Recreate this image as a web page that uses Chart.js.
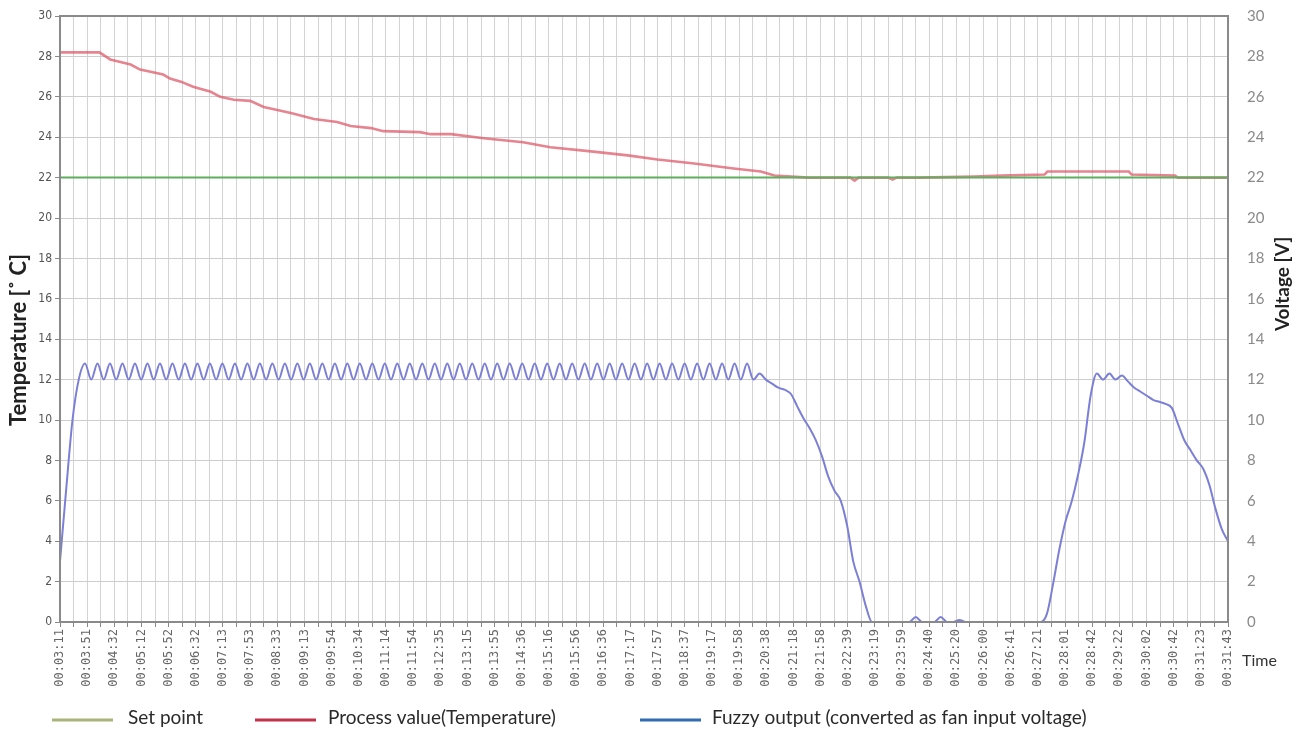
<!DOCTYPE html>
<html>
<head>
<meta charset="utf-8">
<script src="https://cdn.jsdelivr.net/npm/chart.js@4/dist/chart.umd.min.js"></script>
<style>
  html, body { margin: 0; padding: 0; background: #ffffff; }
  #wrap { width: 1313px; height: 742px; position: relative; }
</style>
</head>
<body>
<div id="wrap"><canvas id="c" width="1313" height="742"></canvas></div>
<script>
// ---- x axis: one gridline per unit, a time label on every second gridline ----
const timeLabels = ["00:03:11","00:03:51","00:04:32","00:05:12","00:05:52","00:06:32","00:07:13","00:07:53",
  "00:08:33","00:09:13","00:09:54","00:10:34","00:11:14","00:11:54","00:12:35","00:13:15","00:13:55",
  "00:14:36","00:15:16","00:15:56","00:16:36","00:17:17","00:17:57","00:18:37","00:19:17","00:19:58",
  "00:20:38","00:21:18","00:21:58","00:22:39","00:23:19","00:23:59","00:24:40","00:25:20","00:26:00",
  "00:26:41","00:27:21","00:28:01","00:28:42","00:29:22","00:30:02","00:30:42","00:31:23","00:31:43"];
const GRID_PER_LABEL = 2;

// ---- y ticks ----
const yTicks = [0,2,4,6,8,10,12,14,16,18,20,22,24,26,28,30];

// ---- Set point (°C) ----
const setpointX = [0, 86];
const setpointY = [22, 22];

// ---- Process value, temperature (°C) ----
const tempX = [0, 2.9, 3.7, 5.2, 5.9, 7.6, 8.1, 8.9, 9.8, 11.1, 11.8, 12.8, 14.0, 15.0, 17.0, 18.7, 20.4,
  21.4, 22.9, 23.8, 26.5, 27.3, 28.8, 31.2, 34.1, 36.1, 39.1, 41.8, 44.0, 46.7, 49.6, 51.6, 52.6, 55.1,
  58.2, 58.5, 58.8, 61.0, 61.3, 61.6, 63.2, 67.3, 69.3, 72.5, 72.7, 78.7, 78.9, 82.1, 82.3, 86];
const tempY = [28.2, 28.2, 27.85, 27.6, 27.35, 27.1, 26.9, 26.75, 26.5, 26.25, 26.0, 25.85, 25.8, 25.5,
  25.2, 24.9, 24.75, 24.55, 24.45, 24.3, 24.25, 24.15, 24.15, 23.95, 23.75, 23.5, 23.3, 23.1, 22.9, 22.7,
  22.45, 22.3, 22.1, 22.0, 22.0, 21.85, 22.0, 22.0, 21.9, 22.0, 22.0, 22.05, 22.1, 22.15, 22.3, 22.3,
  22.15, 22.1, 22.0, 22.0];

// ---- Fuzzy output (V), sampled every FUZZY_STEP gridline units ----
const FUZZY_STEP = 0.4599;
const fuzzyY = [3.0, 6.6, 10.0, 12.0,
  12.8,12.0,12.8,12.0,12.8,12.0,12.8,12.0,12.8,12.0,12.8,12.0,12.8,12.0,12.8,12.0,
  12.8,12.0,12.8,12.0,12.8,12.0,12.8,12.0,12.8,12.0,12.8,12.0,12.8,12.0,12.8,12.0,
  12.8,12.0,12.8,12.0,12.8,12.0,12.8,12.0,12.8,12.0,12.8,12.0,12.8,12.0,12.8,12.0,
  12.8,12.0,12.8,12.0,12.8,12.0,12.8,12.0,12.8,12.0,12.8,12.0,12.8,12.0,12.8,12.0,
  12.8,12.0,12.8,12.0,12.8,12.0,12.8,12.0,12.8,12.0,12.8,12.0,12.8,12.0,12.8,12.0,
  12.8,12.0,12.8,12.0,12.8,12.0,12.8,12.0,12.8,12.0,12.8,12.0,12.8,12.0,12.8,12.0,
  12.8,12.0,12.8,12.0,12.8,12.0,12.8,12.0,12.8,12.0,12.8,12.0,
  12.3, 12.0, 11.8, 11.6, 11.5, 11.3, 10.7, 10.1, 9.6, 9.0, 8.2, 7.2, 6.5, 6.0, 4.8, 3.0, 2.0, 0.8,
  0, 0, 0, 0, 0, 0, 0, 0.25, 0, 0, 0, 0.25, 0, 0, 0.1, 0, 0, 0, 0, 0, 0, 0, 0, 0, 0, 0, 0, 0,
  0.4, 1.9, 3.6, 5.0, 6.0, 7.3, 8.9, 11.2, 12.3, 12.0, 12.3, 12.0, 12.2, 11.9, 11.6, 11.4, 11.2, 11.0,
  10.9, 10.8, 10.6, 9.8, 9.0, 8.5, 8.0, 7.6, 6.8, 5.6, 4.6, 4.0];

const seriesNames = ["Set point", "Process value(Temperature)", "Fuzzy output (converted as fan input voltage)"];
const legendColors = ["#a9b47c", "#c4324a", "#2f6cb3"];

const xMax = (timeLabels.length - 1) * GRID_PER_LABEL;
const zip = (xs, ys) => ys.map((y, i) => ({ x: xs[i], y }));

const overlay = {
  id: 'overlay',
  afterDraw(chart) {
    const { ctx, chartArea: a } = chart;
    ctx.save();
    // plot frame
    ctx.strokeStyle = '#8a8a8a';
    ctx.lineWidth = 2;
    ctx.strokeRect(a.left, a.top, a.right - a.left, a.bottom - a.top);
    // axis titles
    ctx.fillStyle = '#222';
    ctx.textAlign = 'center';
    ctx.textBaseline = 'middle';
    ctx.font = 'bold 22px Lato, "Open Sans", sans-serif';
    ctx.save(); ctx.translate(19, 340); ctx.rotate(-Math.PI / 2);
    ctx.fillText('Temperature [\u02DA C]', 0, 0); ctx.restore();
    ctx.font = 'bold 19px Lato, "Open Sans", sans-serif';
    ctx.save(); ctx.translate(1283, 284); ctx.rotate(-Math.PI / 2);
    ctx.fillText('Voltage [V]', 0, 0); ctx.restore();
    // "Time"
    ctx.font = '16px Lato, "Open Sans", sans-serif';
    ctx.fillStyle = '#333';
    ctx.textAlign = 'left';
    ctx.fillText('Time', 1242, 661);
    // legend
    const items = [[52, 128], [255, 328], [640, 712]];
    ctx.font = '19px Lato, "Open Sans", sans-serif';
    ctx.fillStyle = '#2a2a2a';
    items.forEach(([lx, tx], i) => {
      ctx.strokeStyle = legendColors[i];
      ctx.lineWidth = 3;
      ctx.beginPath(); ctx.moveTo(lx, 720); ctx.lineTo(lx + 61, 720); ctx.stroke();
      ctx.fillText(seriesNames[i], tx, 718);
    });
    ctx.restore();
  }
};

new Chart(document.getElementById('c'), {
  type: 'line',
  data: {
    datasets: [
      { label: seriesNames[0], data: zip(setpointX, setpointY), yAxisID: 'y',
        borderColor: '#5fae5f', borderWidth: 2 },
      { label: seriesNames[1], data: zip(tempX, tempY), yAxisID: 'y',
        borderColor: 'rgba(220, 85, 100, 0.72)', borderWidth: 2.6 },
      { label: seriesNames[2], data: zip(fuzzyY.map((_, i) => i * FUZZY_STEP), fuzzyY), yAxisID: 'y2',
        borderColor: '#7c7fd6', borderWidth: 2, cubicInterpolationMode: 'monotone' }
    ]
  },
  options: {
    responsive: false,
    animation: false,
    devicePixelRatio: 1,
    elements: { point: { radius: 0 }, line: { tension: 0 } },
    layout: { padding: { top: 16, right: 15, left: 0, bottom: 0 } },
    plugins: { legend: { display: false }, tooltip: { enabled: false } },
    scales: {
      x: {
        type: 'linear', min: 0, max: xMax,
        afterBuildTicks: s => { s.ticks = Array.from({ length: xMax + 1 }, (_, i) => ({ value: i })); },
        afterFit: s => { s.height = 120; },
        ticks: {
          autoSkip: false, minRotation: 90, maxRotation: 90, padding: 2,
          color: '#666', font: { family: '"DejaVu Sans Mono", monospace', size: 12 },
          callback: v => (v % GRID_PER_LABEL === 0 ? timeLabels[v / GRID_PER_LABEL] : '')
        },
        grid: { color: '#d3d3d3', tickColor: '#888', tickLength: 5 },
        border: { color: '#8a8a8a', width: 2 }
      },
      y: {
        position: 'left', min: 0, max: 30,
        afterBuildTicks: s => { s.ticks = yTicks.map(v => ({ value: v })); },
        afterFit: s => { s.width = 60; },
        ticks: { color: '#555', padding: 3,
          font: { family: '"Liberation Sans Narrow", "DejaVu Sans Condensed", sans-serif', size: 12 } },
        grid: { color: '#cdcdcd', tickColor: '#888', tickLength: 5 },
        border: { color: '#8a8a8a', width: 2 }
      },
      y2: {
        position: 'right', min: 0, max: 30,
        afterBuildTicks: s => { s.ticks = yTicks.map(v => ({ value: v })); },
        afterFit: s => { s.width = 70; },
        ticks: { color: '#8a8a8a', padding: 3, font: { family: 'Lato, "Open Sans", sans-serif', size: 15 } },
        grid: { drawOnChartArea: false, drawTicks: true, tickLength: 16, tickColor: 'rgba(0,0,0,0)' },
        border: { color: '#8a8a8a', width: 2 }
      }
    }
  },
  plugins: [overlay]
});
</script>
</body>
</html>
